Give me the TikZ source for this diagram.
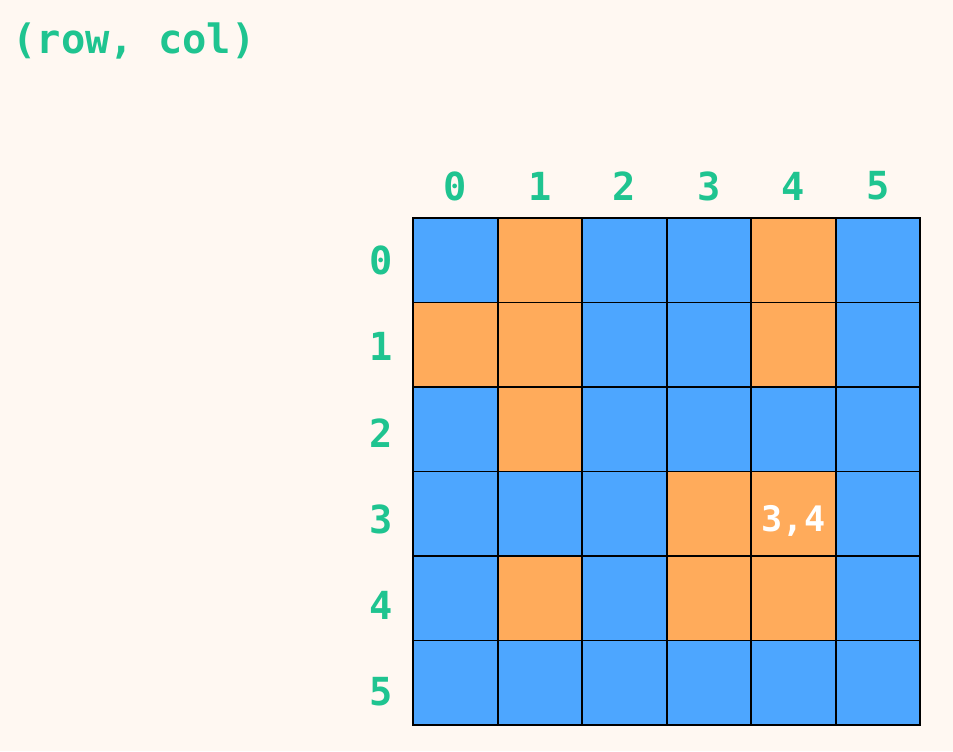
\documentclass[tikz,border=0pt]{standalone}
\usepackage{fontspec}
\setmonofont{DejaVu Sans Mono}
\usepackage{tikz}
\usetikzlibrary{positioning}
\definecolor{bgcream}{HTML}{FFF8F2}
\definecolor{cellblue}{HTML}{4DA6FF}
\definecolor{cellorange}{HTML}{FFAB5B}
\definecolor{idxgreen}{HTML}{1FC490}

\begin{document}
\begin{tikzpicture}[x=0.02cm, y=-0.02cm,
  cell/.style={minimum size=1.69cm, inner sep=0pt, outer sep=0pt},
  cellb/.style={fill=cellblue}, cello/.style={fill=cellorange},
  idx/.style={text=idxgreen, font=\ttfamily\bfseries\fontsize{22}{26}\selectfont}]
  \fill[bgcream] (0,0) rectangle (953,751);
  \useasboundingbox (0,0) rectangle (953,751);

  \node[idx, anchor=west, inner sep=0pt, font=\ttfamily\bfseries\fontsize{23}{27}\selectfont] (title) at (12,41) {(row, col)};

  % grid, one list per row
  \foreach \r/\row in {0/{cellb,cello,cellb,cellb,cello,cellb},
                       1/{cello,cello,cellb,cellb,cello,cellb},
                       2/{cellb,cello,cellb,cellb,cellb,cellb},
                       3/{cellb,cellb,cellb,cello,cello,cellb},
                       4/{cellb,cello,cellb,cello,cello,cellb},
                       5/{cellb,cellb,cellb,cellb,cellb,cellb}}
    \foreach \k [count=\c from 0] in \row
      \node[cell, \k] (c\r\c) at ({455.5+84.5*\c},{260.25+84.5*\r}) {};
  % borders on top
  \foreach \r in {0,...,5}
    \foreach \c in {0,...,5}
      \draw[line width=1.1pt] (c\r\c.south west) rectangle (c\r\c.north east);

  % indices
  \foreach \c in {0,...,5}
    \node[idx] (col\c) at ({455.5+84.5*\c},186) {\c};
  \foreach \r in {0,...,5}
    \node[idx] (row\r) at (381,{260+86.4*\r}) {\r};

  \node[text=white, font=\ttfamily\bfseries\fontsize{20}{24}\selectfont] (pick) at ([yshift=-4pt]c34) {3,4};
\end{tikzpicture}
\end{document}
